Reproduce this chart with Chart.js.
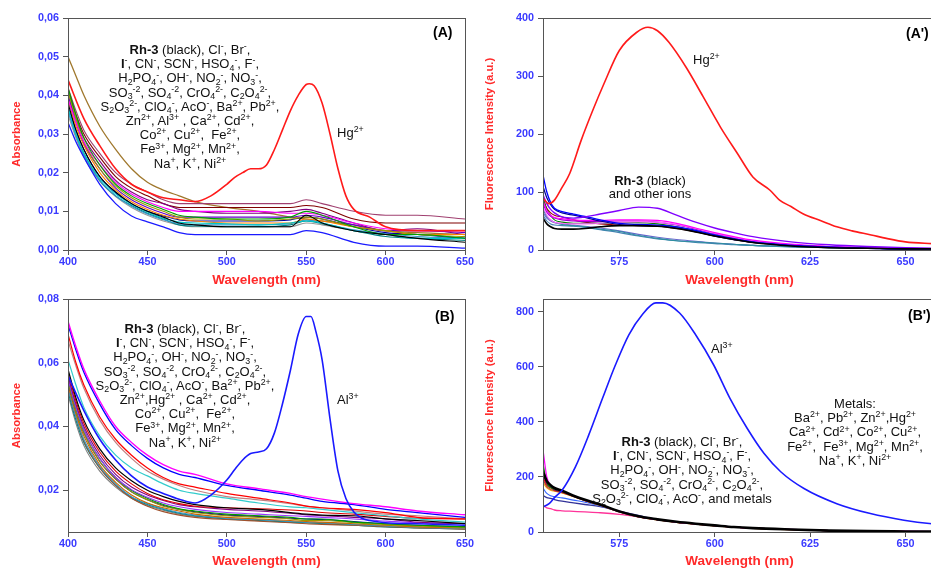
<!DOCTYPE html>
<html>
<head>
<meta charset="utf-8">
<script src="https://cdn.jsdelivr.net/npm/chart.js@4.4.1/dist/chart.umd.min.js"></script>
<style>
  body { margin: 0; width: 931px; height: 568px; overflow: hidden; background: #fff; position: relative;
         font-family: "Liberation Sans", Arial, sans-serif; }
  canvas { position: absolute; }
  .txt { position: absolute; font-size: 13px; color: #111; text-align: center; line-height: 14.2px; white-space: nowrap; z-index: 2; }
  .txt sup, .txt sub { font-size: 0.68em; line-height: 0; position: relative; vertical-align: baseline; }
  .txt sup { top: -0.55em; }
  .txt sub { top: 0.3em; }
  .lbl { position: absolute; font-size: 13px; color: #111; white-space: nowrap; z-index: 2; }
  .lbl sup { font-size: 0.68em; line-height: 0; position: relative; vertical-align: baseline; top: -0.55em; }
  .tag { position: absolute; font-weight: bold; font-size: 14px; color: #000; z-index: 2; white-space: nowrap; }
</style>
</head>
<body>
<canvas id="paneelA" width="480" height="290" style="left:0;top:0"></canvas>
<canvas id="paneelA2" width="470" height="290" style="left:470px;top:0"></canvas>
<canvas id="paneelB" width="480" height="285" style="left:0;top:285px"></canvas>
<canvas id="paneelB2" width="470" height="285" style="left:470px;top:285px"></canvas>

<!-- (A) -->
<div class="tag" style="left:433px;top:24px">(A)</div>
<div class="txt" style="left:70px;top:43px;width:240px">
  <div><b>Rh-3</b> (black), Cl<sup>-</sup>, Br<sup>-</sup>,</div>
  <div><b>I</b><sup>-</sup>, CN<sup>-</sup>, SCN<sup>-</sup>, HSO<sub>4</sub><sup>-</sup>, F<sup>-</sup>,</div>
  <div>H<sub>2</sub>PO<sub>4</sub><sup>-</sup>, OH<sup>-</sup>, NO<sub>2</sub><sup>-</sup>, NO<sub>3</sub><sup>-</sup>,</div>
  <div>SO<sub>3</sub><sup>-2</sup>, SO<sub>4</sub><sup>-2</sup>, CrO<sub>4</sub><sup>2-</sup>, C<sub>2</sub>O<sub>4</sub><sup>2-</sup>,</div>
  <div>S<sub>2</sub>O<sub>3</sub><sup>2-</sup>, ClO<sub>4</sub><sup>-</sup>, AcO<sup>-</sup>, Ba<sup>2+</sup>, Pb<sup>2+</sup>,</div>
  <div>Zn<sup>2+</sup>, Al<sup>3+</sup> , Ca<sup>2+</sup>, Cd<sup>2+</sup>,</div>
  <div>Co<sup>2+</sup>, Cu<sup>2+</sup>,&nbsp; Fe<sup>2+</sup>,</div>
  <div>Fe<sup>3+</sup>, Mg<sup>2+</sup>, Mn<sup>2+</sup>,</div>
  <div>Na<sup>+</sup>, K<sup>+</sup>, Ni<sup>2+</sup></div>
</div>
<div class="lbl" style="left:337px;top:125px">Hg<sup>2+</sup></div>

<!-- (A') -->
<div class="tag" style="left:906px;top:25px">(A')</div>
<div class="lbl" style="left:693px;top:52px">Hg<sup>2+</sup></div>
<div class="txt" style="left:560px;top:175px;width:180px;line-height:12.5px">
  <div><b>Rh-3</b> (black)</div>
  <div>and other ions</div>
</div>

<!-- (B) -->
<div class="tag" style="left:435px;top:308px">(B)</div>
<div class="txt" style="left:65px;top:322px;width:240px">
  <div><b>Rh-3</b> (black), Cl<sup>-</sup>, Br<sup>-</sup>,</div>
  <div><b>I</b><sup>-</sup>, CN<sup>-</sup>, SCN<sup>-</sup>, HSO<sub>4</sub><sup>-</sup>, F<sup>-</sup>,</div>
  <div>H<sub>2</sub>PO<sub>4</sub><sup>-</sup>, OH<sup>-</sup>, NO<sub>2</sub><sup>-</sup>, NO<sub>3</sub><sup>-</sup>,</div>
  <div>SO<sub>3</sub><sup>-2</sup>, SO<sub>4</sub><sup>-2</sup>, CrO<sub>4</sub><sup>2-</sup>, C<sub>2</sub>O<sub>4</sub><sup>2-</sup>,</div>
  <div>S<sub>2</sub>O<sub>3</sub><sup>2-</sup>, ClO<sub>4</sub><sup>-</sup>, AcO<sup>-</sup>, Ba<sup>2+</sup>, Pb<sup>2+</sup>,</div>
  <div>Zn<sup>2+</sup>,Hg<sup>2+</sup> , Ca<sup>2+</sup>, Cd<sup>2+</sup>,</div>
  <div>Co<sup>2+</sup>, Cu<sup>2+</sup>,&nbsp; Fe<sup>2+</sup>,</div>
  <div>Fe<sup>3+</sup>, Mg<sup>2+</sup>, Mn<sup>2+</sup>,</div>
  <div>Na<sup>+</sup>, K<sup>+</sup>, Ni<sup>2+</sup></div>
</div>
<div class="lbl" style="left:337px;top:392px">Al<sup>3+</sup></div>

<!-- (B') -->
<div class="tag" style="left:908px;top:307px">(B')</div>
<div class="lbl" style="left:711px;top:341px">Al<sup>3+</sup></div>
<div class="txt" style="left:765px;top:397px;width:180px">
  <div>Metals:</div>
  <div>Ba<sup>2+</sup>, Pb<sup>2+</sup>, Zn<sup>2+</sup>,Hg<sup>2+</sup></div>
  <div>Ca<sup>2+</sup>, Cd<sup>2+</sup>, Co<sup>2+</sup>, Cu<sup>2+</sup>,</div>
  <div>Fe<sup>2+</sup>,&nbsp; Fe<sup>3+</sup>, Mg<sup>2+</sup>, Mn<sup>2+</sup>,</div>
  <div>Na<sup>+</sup>, K<sup>+</sup>, Ni<sup>2+</sup></div>
</div>
<div class="txt" style="left:562px;top:435px;width:240px">
  <div><b>Rh-3</b> (black), Cl<sup>-</sup>, Br<sup>-</sup>,</div>
  <div><b>I</b><sup>-</sup>, CN<sup>-</sup>, SCN<sup>-</sup>, HSO<sub>4</sub><sup>-</sup>, F<sup>-</sup>,</div>
  <div>H<sub>2</sub>PO<sub>4</sub><sup>-</sup>, OH<sup>-</sup>, NO<sub>2</sub><sup>-</sup>, NO<sub>3</sub><sup>-</sup>,</div>
  <div>SO<sub>3</sub><sup>-2</sup>, SO<sub>4</sub><sup>-2</sup>, CrO<sub>4</sub><sup>2-</sup>, C<sub>2</sub>O<sub>4</sub><sup>2-</sup>,</div>
  <div>S<sub>2</sub>O<sub>3</sub><sup>2-</sup>, ClO<sub>4</sub><sup>-</sup>, AcO<sup>-</sup>, and metals</div>
</div>

<script>
// Golflengtes (nm) van de absorptiespectra
const wlAbs = [400, 405, 410, 420, 430, 440, 450, 460, 470, 480, 500, 520, 540, 550, 560, 580, 600, 620, 650];

// (A) absorptie: Rh-3 met de verschillende ionen
const aBrown   = [0.050, 0.045, 0.040, 0.032, 0.026, 0.021, 0.0175, 0.0155, 0.014, 0.0125, 0.011, 0.010, 0.0085, 0.008, 0.0075, 0.0065, 0.005, 0.0045, 0.004];
const aPlum    = [0.042, 0.036, 0.031, 0.025, 0.020, 0.017, 0.015, 0.013, 0.012, 0.012, 0.012, 0.012, 0.012, 0.013, 0.012, 0.010, 0.009, 0.009, 0.008];
const aMaroon  = [0.041, 0.035, 0.030, 0.024, 0.019, 0.016, 0.014, 0.012, 0.011, 0.011, 0.011, 0.011, 0.011, 0.0115, 0.011, 0.008, 0.007, 0.007, 0.007];
const aPurple  = [0.040, 0.034, 0.029, 0.023, 0.018, 0.015, 0.013, 0.012, 0.0105, 0.010, 0.0095, 0.0095, 0.010, 0.0105, 0.0095, 0.007, 0.005, 0.0055, 0.004];
const aMagenta = [0.039, 0.033, 0.028, 0.022, 0.0175, 0.0145, 0.0125, 0.011, 0.010, 0.010, 0.010, 0.010, 0.0095, 0.0095, 0.009, 0.007, 0.0055, 0.005, 0.005];
const aGreen   = [0.042, 0.035, 0.029, 0.022, 0.017, 0.014, 0.012, 0.0105, 0.009, 0.0085, 0.008, 0.008, 0.0085, 0.010, 0.009, 0.006, 0.004, 0.004, 0.003];
const aOlive   = [0.041, 0.034, 0.028, 0.021, 0.0165, 0.0135, 0.0115, 0.010, 0.0085, 0.008, 0.008, 0.0075, 0.008, 0.0085, 0.008, 0.006, 0.005, 0.004, 0.0035];
const aBlack   = [0.038, 0.031, 0.026, 0.019, 0.015, 0.012, 0.010, 0.0085, 0.007, 0.0065, 0.006, 0.006, 0.006, 0.009, 0.007, 0.005, 0.004, 0.003, 0.002];
const aCyan    = [0.037, 0.030, 0.025, 0.0185, 0.0145, 0.0118, 0.0098, 0.0082, 0.0072, 0.007, 0.0068, 0.0065, 0.007, 0.0075, 0.007, 0.005, 0.004, 0.003, 0.003];
const aTeal    = [0.036, 0.030, 0.025, 0.018, 0.014, 0.0115, 0.0095, 0.008, 0.0065, 0.0062, 0.006, 0.006, 0.0065, 0.0075, 0.0068, 0.005, 0.0035, 0.003, 0.0025];
const aGray    = [0.035, 0.029, 0.024, 0.0178, 0.0138, 0.011, 0.009, 0.0075, 0.0065, 0.006, 0.006, 0.006, 0.006, 0.007, 0.0065, 0.005, 0.004, 0.003, 0.003];
const aOrange  = [0.039, 0.032, 0.027, 0.020, 0.0155, 0.0125, 0.0105, 0.009, 0.008, 0.0075, 0.007, 0.007, 0.007, 0.008, 0.0075, 0.006, 0.005, 0.004, 0.004];
const aViolet  = [0.040, 0.033, 0.0275, 0.021, 0.016, 0.013, 0.011, 0.0095, 0.0085, 0.0085, 0.0085, 0.0085, 0.0085, 0.009, 0.0085, 0.0065, 0.005, 0.005, 0.0045];
const aNavy    = [0.037, 0.031, 0.026, 0.019, 0.0148, 0.012, 0.010, 0.0088, 0.0078, 0.0075, 0.0075, 0.0075, 0.0078, 0.0085, 0.008, 0.006, 0.0045, 0.004, 0.003];
const aSteel   = [0.036, 0.0295, 0.0245, 0.018, 0.014, 0.0113, 0.0093, 0.0078, 0.0068, 0.0065, 0.0065, 0.0065, 0.0068, 0.0078, 0.007, 0.0052, 0.0042, 0.0035, 0.003];
const aBlue    = [0.033, 0.028, 0.024, 0.017, 0.012, 0.0088, 0.0073, 0.006, 0.0045, 0.004, 0.004, 0.004, 0.004, 0.005, 0.0045, 0.002, 0.001, 0.001, 0.0005];

// (A) Hg2+ absorptie, fijner rond de piek
const wlHgAbs = [400, 410, 420, 430, 440, 450, 460, 470, 480, 490, 500, 505, 510, 515, 520, 525, 530, 535, 540, 545, 550, 552, 555, 560, 565, 570, 575, 580, 590, 600, 620, 650];
const hgAbs   = [0.044, 0.034, 0.027, 0.021, 0.017, 0.015, 0.0135, 0.013, 0.0125, 0.014, 0.017, 0.0188, 0.020, 0.021, 0.021, 0.022, 0.026, 0.031, 0.036, 0.040, 0.0428, 0.043, 0.0425, 0.038, 0.030, 0.021, 0.014, 0.0105, 0.0085, 0.006, 0.005, 0.005];

// (B) absorptie
const bMagenta = [0.073, 0.065, 0.058, 0.048, 0.040, 0.035, 0.031, 0.028, 0.026, 0.025, 0.022, 0.0205, 0.019, 0.018, 0.0172, 0.0158, 0.0148, 0.0135, 0.0123];
const bBlue    = [0.072, 0.064, 0.057, 0.047, 0.039, 0.034, 0.030, 0.027, 0.025, 0.024, 0.0215, 0.020, 0.0185, 0.0175, 0.0165, 0.0155, 0.014, 0.013, 0.0115];
const bRed     = [0.069, 0.060, 0.053, 0.043, 0.036, 0.031, 0.027, 0.024, 0.022, 0.021, 0.019, 0.0175, 0.016, 0.015, 0.0145, 0.014, 0.013, 0.0115, 0.011];
const bRosy    = [0.067, 0.059, 0.052, 0.042, 0.035, 0.030, 0.026, 0.0235, 0.0215, 0.020, 0.018, 0.017, 0.0158, 0.015, 0.0145, 0.0135, 0.0125, 0.012, 0.011];
const bCyan    = [0.061, 0.053, 0.046, 0.037, 0.031, 0.027, 0.0245, 0.022, 0.020, 0.019, 0.0175, 0.016, 0.0148, 0.0145, 0.014, 0.013, 0.012, 0.011, 0.010];
const bBlack   = [0.058, 0.049, 0.042, 0.033, 0.027, 0.023, 0.020, 0.018, 0.0165, 0.0155, 0.0145, 0.014, 0.013, 0.0125, 0.0122, 0.012, 0.011, 0.0105, 0.0095];
const bRed2    = [0.057, 0.048, 0.041, 0.032, 0.026, 0.022, 0.019, 0.017, 0.0158, 0.015, 0.0145, 0.0142, 0.0138, 0.0135, 0.013, 0.0125, 0.0118, 0.0112, 0.011];
const bPurple  = [0.056, 0.047, 0.040, 0.031, 0.025, 0.021, 0.0185, 0.0168, 0.0155, 0.0148, 0.014, 0.0135, 0.0128, 0.0123, 0.012, 0.0115, 0.011, 0.010, 0.0095];
const bViolet  = [0.055, 0.046, 0.039, 0.030, 0.024, 0.0202, 0.0178, 0.016, 0.0148, 0.014, 0.013, 0.0125, 0.012, 0.0118, 0.0115, 0.011, 0.0103, 0.0098, 0.0095];
const bGreen   = [0.055, 0.046, 0.039, 0.030, 0.024, 0.020, 0.0175, 0.0155, 0.0142, 0.0135, 0.0125, 0.012, 0.0115, 0.011, 0.011, 0.010, 0.0095, 0.009, 0.0085];
const bOlive   = [0.054, 0.045, 0.038, 0.029, 0.0235, 0.0195, 0.017, 0.015, 0.014, 0.013, 0.012, 0.0115, 0.011, 0.0105, 0.0105, 0.0098, 0.0092, 0.0088, 0.0083];
const bNavy    = [0.054, 0.045, 0.038, 0.029, 0.0235, 0.0195, 0.017, 0.0152, 0.014, 0.0132, 0.0122, 0.0118, 0.0112, 0.011, 0.0108, 0.0102, 0.0095, 0.009, 0.0086];
const bOrange  = [0.053, 0.044, 0.037, 0.028, 0.0225, 0.0185, 0.016, 0.0145, 0.0135, 0.0125, 0.0115, 0.011, 0.0105, 0.0102, 0.010, 0.0095, 0.009, 0.0085, 0.0082];
const bSteel   = [0.052, 0.043, 0.036, 0.0275, 0.022, 0.018, 0.0158, 0.0142, 0.013, 0.0122, 0.0112, 0.0108, 0.0102, 0.010, 0.0098, 0.0093, 0.0088, 0.0083, 0.008];
const bBrown   = [0.052, 0.043, 0.0355, 0.027, 0.0215, 0.0175, 0.015, 0.0133, 0.0122, 0.0115, 0.0108, 0.0103, 0.0098, 0.0095, 0.0093, 0.009, 0.0086, 0.0082, 0.0078];
const bTeal    = [0.051, 0.042, 0.035, 0.027, 0.0215, 0.0178, 0.0155, 0.014, 0.0128, 0.012, 0.011, 0.0105, 0.010, 0.0098, 0.0095, 0.009, 0.0085, 0.0082, 0.0078];
const bGray    = [0.050, 0.041, 0.034, 0.026, 0.021, 0.0175, 0.0152, 0.0137, 0.0125, 0.0118, 0.011, 0.0105, 0.010, 0.0098, 0.0096, 0.0092, 0.0088, 0.0085, 0.008];

// (B) Al3+ absorptie
const wlAlAbs = [400, 410, 420, 430, 440, 450, 460, 470, 480, 490, 500, 505, 510, 515, 520, 525, 530, 535, 540, 545, 550, 553, 556, 560, 565, 570, 575, 580, 585, 590, 600, 620, 650];
const alAbs   = [0.056, 0.045, 0.036, 0.0295, 0.0245, 0.021, 0.019, 0.0172, 0.016, 0.0185, 0.0232, 0.0265, 0.0295, 0.0315, 0.032, 0.033, 0.038, 0.047, 0.0575, 0.069, 0.0745, 0.0745, 0.070, 0.061, 0.0424, 0.026, 0.0174, 0.0132, 0.0112, 0.0105, 0.0098, 0.0095, 0.009];

// Golflengtes (nm) van de fluorescentiespectra
const wlFl = [555, 556, 557, 558, 560, 563, 566, 570, 575, 580, 585, 590, 595, 600, 605, 610, 620, 630, 640, 650, 660];

// (A') fluorescentie
const fViolet  = [95, 80, 70, 64, 57, 55, 57, 62, 68, 74, 72, 60, 48, 38, 30, 23, 14, 9, 6, 4, 3];
const fBlue    = [129, 100, 82, 72, 66, 62, 58, 52, 46, 44, 43, 40, 34, 26, 19, 14, 8, 5, 3, 2, 2];
const fNavy    = [110, 90, 78, 70, 64, 60, 56, 50, 44, 42, 41, 38, 32, 24, 18, 13, 8, 5, 3, 2, 2];
const fMaroon  = [88, 72, 64, 60, 57, 52, 48, 45, 43, 42, 41, 37, 31, 24, 18, 13, 8, 5, 3, 2, 2];
const fMagenta = [85, 68, 60, 56, 54, 52, 51, 51, 52, 52, 51, 46, 38, 30, 23, 17, 10, 6, 4, 3, 2];
const fGreen   = [90, 70, 60, 52, 48, 46, 46, 46, 47, 47, 45, 40, 33, 26, 20, 15, 9, 5, 3, 2, 2];
const fPink    = [75, 60, 52, 48, 46, 45, 45, 46, 48, 49, 48, 44, 37, 29, 22, 16, 9, 6, 4, 3, 2];
const fPurple  = [80, 65, 58, 55, 52, 50, 49, 49, 50, 50, 48, 43, 36, 28, 21, 15, 9, 6, 4, 3, 2];
const fTeal    = [70, 58, 52, 48, 44, 42, 40, 36, 32, 25, 20, 16, 14, 12, 10, 8, 6, 4, 3, 2, 2];
const fSteel   = [60, 50, 45, 43, 42, 41, 39, 35, 30, 24, 19, 16, 13, 11, 9, 8, 5, 4, 3, 2, 2];
const fSlate   = [65, 55, 50, 47, 45, 43, 41, 38, 33, 27, 22, 18, 15, 12, 10, 8, 6, 4, 3, 2, 2];
const fBlack   = [55, 45, 40, 37, 36, 36, 37, 40, 42, 42, 41, 37, 31, 24, 18, 13, 7, 4, 3, 2, 2];

// (A') Hg2+ fluorescentie
const wlHgFl = [555, 556.5, 558, 560, 562, 565, 568, 571, 575, 579.5, 582.5, 585, 588, 592.5, 597, 601.5, 606, 610, 614.5, 617, 620, 623, 628, 632, 636, 641, 645, 650, 657, 660];
const hgFl   = [89, 80, 86, 108, 132, 189, 240, 287, 344, 375, 384, 378, 358, 315, 264, 212, 166, 126, 103, 86, 75, 63, 50, 40, 33, 26, 20, 14, 11, 10];

// (B') fluorescentie
const gMagenta = [300, 200, 170, 158, 148, 131, 116, 99, 74, 56, 45, 36, 29, 23, 18, 14, 9, 5, 3, 2, 1];
const gGreen   = [250, 180, 162, 155, 147, 131, 116, 99, 74, 56, 45, 36, 29, 23, 18, 14, 9, 5, 3, 2, 1];
const gPurple  = [210, 175, 162, 154, 146, 130, 115, 98, 74, 56, 45, 36, 29, 23, 18, 14, 9, 5, 3, 2, 1];
const gRed     = [200, 170, 160, 152, 145, 130, 115, 98, 74, 56, 45, 36, 29, 23, 18, 14, 9, 5, 3, 2, 1];
const gBrown   = [190, 165, 155, 150, 143, 129, 114, 97, 73, 55, 44, 35, 28, 22, 17, 13, 8, 5, 3, 2, 1];
const gOrange  = [180, 160, 152, 148, 142, 128, 114, 97, 73, 55, 44, 35, 28, 22, 17, 13, 8, 5, 3, 2, 1];
const gRoyal   = [160, 140, 132, 128, 124, 116, 108, 95, 74, 57, 46, 37, 30, 24, 18, 14, 9, 5, 3, 2, 1];
const gNavy    = [133, 125, 122, 118, 112, 106, 100, 92, 76, 60, 45, 36, 29, 23, 18, 14, 9, 5, 3, 2, 1];
const gPink    = [97, 88, 85, 80, 77, 75, 73, 70, 64, 55, 45, 36, 29, 23, 18, 14, 9, 5, 3, 2, 1];
const gBlack   = [219, 185, 170, 160, 150, 132, 117, 100, 75, 57, 46, 37, 30, 24, 18, 14, 9, 5, 3, 2, 1];

// (B') Al3+ fluorescentie
const wlAlFl = [555, 556.6, 558, 560, 563.5, 567, 570.6, 574, 577.5, 581, 584.6, 586.4, 590.8, 595, 599.7, 604, 608.5, 612.9, 617.3, 623.4, 632, 640.8, 649.6, 656.9, 660];
const alFl   = [91, 103, 125, 152, 237, 353, 486, 608, 717, 790, 833, 833, 796, 717, 608, 486, 377, 286, 219, 158, 103, 67, 43, 30, 27];

// Asverdeling
const ticksAbsA = [0, 0.01, 0.02, 0.03, 0.04, 0.05, 0.06];
const ticksAbsB = [0.02, 0.04, 0.06, 0.08];
const ticksFlA  = [0, 100, 200, 300, 400];
const ticksFlB  = [0, 200, 400, 600, 800];
const ticksWlAbs = [400, 450, 500, 550, 600, 650];
const ticksWlFl  = [575, 600, 625, 650];

const FONT = "'Liberation Sans', Arial, sans-serif";
const BLAUW = '#3a3aff';
const ROOD = '#ff2a2a';
const KADER = '#555';

// volledig kader rond het plotgebied
const kaderPlugin = {
  id: 'kader',
  afterDatasetsDraw(chart) {
    const { ctx, chartArea: a } = chart;
    ctx.save();
    ctx.strokeStyle = KADER;
    ctx.lineWidth = 1;
    ctx.strokeRect(Math.round(a.left) + 0.5, Math.round(a.top) + 0.5, Math.round(a.width), Math.round(a.height));
    ctx.restore();
  }
};

function lijn(xs, ys, kleur, dikte) {
  return {
    data: xs.map((x, i) => ({ x: x, y: ys[i] })),
    borderColor: kleur,
    borderWidth: dikte || 1.1,
    pointRadius: 0,
    fill: false,
    cubicInterpolationMode: 'monotone'
  };
}

function as(cfg) {
  return {
    type: 'linear',
    min: cfg.min,
    max: cfg.max,
    afterBuildTicks: s => { s.ticks = cfg.ticks.map(v => ({ value: v })); },
    afterFit: s => { if (cfg.width) s.width = cfg.width; if (cfg.height) s.height = cfg.height; },
    ticks: {
      color: BLAUW,
      font: { family: FONT, size: 10.8, weight: 'bold' },
      padding: cfg.tickPad,
      autoSkip: false,
      maxRotation: 0,
      callback: cfg.fmt || (v => v)
    },
    grid: { display: true, drawOnChartArea: false, drawTicks: true, tickLength: 5, color: KADER },
    border: { display: true, color: KADER, width: 1 },
    title: {
      display: true,
      text: cfg.title,
      color: ROOD,
      font: { family: FONT, size: cfg.titleSize, weight: 'bold' },
      padding: cfg.titlePad
    }
  };
}

function tekenPaneel(id, p) {
  new Chart(document.getElementById(id), {
    type: 'line',
    data: { datasets: p.datasets },
    options: {
      responsive: false,
      animation: false,
      events: [],
      layout: { padding: { top: p.top, right: p.right, left: 0, bottom: 0 } },
      plugins: { legend: { display: false }, tooltip: { enabled: false } },
      scales: {
        x: as({ min: p.xMin, max: p.xMax, ticks: p.xTicks, height: p.xHeight, tickPad: 1,
                title: 'Wavelength (nm)', titleSize: 13.5, titlePad: { top: 0, bottom: p.xTitlePad } }),
        y: as({ min: p.yMin, max: p.yMax, ticks: p.yTicks, width: p.yWidth, tickPad: 4, fmt: p.fmt,
                title: p.yTitle, titleSize: 11.3, titlePad: { top: p.yTitlePad, bottom: 0 } })
      }
    },
    plugins: [kaderPlugin]
  });
}

const komma = v => v.toFixed(2).replace('.', ',');

// (A)
tekenPaneel('paneelA', {
  top: 18, right: 15, xHeight: 40, yWidth: 68, xTitlePad: 2, yTitlePad: 10,
  xMin: 400, xMax: 650, xTicks: ticksWlAbs,
  yMin: 0, yMax: 0.06, yTicks: ticksAbsA, fmt: komma, yTitle: 'Absorbance',
  datasets: [
    lijn(wlHgAbs, hgAbs, '#ff1a1a', 1.6),
    lijn(wlAbs, aBlue, '#1a1aff', 1.3),
    lijn(wlAbs, aBlack, '#000000'),
    lijn(wlAbs, aGreen, '#00a000'),
    lijn(wlAbs, aMagenta, '#ff00ff'),
    lijn(wlAbs, aCyan, '#00c8c8'),
    lijn(wlAbs, aOlive, '#999900'),
    lijn(wlAbs, aOrange, '#ff8000'),
    lijn(wlAbs, aViolet, '#6600cc'),
    lijn(wlAbs, aNavy, '#0000a0'),
    lijn(wlAbs, aSteel, '#3399cc'),
    lijn(wlAbs, aTeal, '#008080'),
    lijn(wlAbs, aGray, '#999999'),
    lijn(wlAbs, aPurple, '#800080'),
    lijn(wlAbs, aMaroon, '#800000'),
    lijn(wlAbs, aPlum, '#a04070'),
    lijn(wlAbs, aBrown, '#a0782d', 1.3)
  ]
});

// (A')
tekenPaneel('paneelA2', {
  top: 18, right: 4, xHeight: 40, yWidth: 73, xTitlePad: 2, yTitlePad: 13,
  xMin: 555, xMax: 658, xTicks: ticksWlFl,
  yMin: 0, yMax: 400, yTicks: ticksFlA, yTitle: 'Fluorescence Intensity (a.u.)',
  datasets: [
    lijn(wlHgFl, hgFl, '#ff1a1a', 1.6),
    lijn(wlFl, fBlack, '#000000', 1.6),
    lijn(wlFl, fViolet, '#8000ff', 1.4),
    lijn(wlFl, fBlue, '#0000ff', 1.3),
    lijn(wlFl, fNavy, '#000090', 1.2),
    lijn(wlFl, fMagenta, '#ff00ff', 1.2),
    lijn(wlFl, fPink, '#ff66ff'),
    lijn(wlFl, fPurple, '#9900cc'),
    lijn(wlFl, fGreen, '#008000'),
    lijn(wlFl, fMaroon, '#990000'),
    lijn(wlFl, fTeal, '#2f8fa0'),
    lijn(wlFl, fSteel, '#4682b4'),
    lijn(wlFl, fSlate, '#6666cc')
  ]
});

// (B)
tekenPaneel('paneelB', {
  top: 14, right: 15, xHeight: 38, yWidth: 68, xTitlePad: 1, yTitlePad: 10,
  xMin: 400, xMax: 650, xTicks: ticksWlAbs,
  yMin: 0.0069, yMax: 0.08, yTicks: ticksAbsB, fmt: komma, yTitle: 'Absorbance',
  datasets: [
    lijn(wlAlAbs, alAbs, '#1a1aff', 1.6),
    lijn(wlAbs, bMagenta, '#ff00ff', 1.4),
    lijn(wlAbs, bBlue, '#0000ff', 1.3),
    lijn(wlAbs, bBlack, '#000000', 1.2),
    lijn(wlAbs, bRed, '#ff0000', 1.2),
    lijn(wlAbs, bRosy, '#c08080', 1.2),
    lijn(wlAbs, bCyan, '#33cccc', 1.2),
    lijn(wlAbs, bRed2, '#e00000'),
    lijn(wlAbs, bPurple, '#800080'),
    lijn(wlAbs, bViolet, '#9933ff'),
    lijn(wlAbs, bGreen, '#009900'),
    lijn(wlAbs, bOlive, '#999900'),
    lijn(wlAbs, bNavy, '#000099'),
    lijn(wlAbs, bOrange, '#cc6600'),
    lijn(wlAbs, bSteel, '#3399cc'),
    lijn(wlAbs, bBrown, '#a0522d'),
    lijn(wlAbs, bTeal, '#008080'),
    lijn(wlAbs, bGray, '#808080')
  ]
});

// (B')
tekenPaneel('paneelB2', {
  top: 14, right: 4, xHeight: 38, yWidth: 73, xTitlePad: 1, yTitlePad: 13,
  xMin: 555, xMax: 658, xTicks: ticksWlFl,
  yMin: 0, yMax: 847, yTicks: ticksFlB, yTitle: 'Fluorescence Intensity (a.u.)',
  datasets: [
    lijn(wlAlFl, alFl, '#1a1aff', 1.6),
    lijn(wlFl, gBlack, '#000000', 2.6),
    lijn(wlFl, gMagenta, '#ff00ff', 1.2),
    lijn(wlFl, gGreen, '#00a000'),
    lijn(wlFl, gPurple, '#800080'),
    lijn(wlFl, gRed, '#ff0000'),
    lijn(wlFl, gBrown, '#996633'),
    lijn(wlFl, gOrange, '#ff9900'),
    lijn(wlFl, gRoyal, '#3366ff'),
    lijn(wlFl, gNavy, '#333399', 1.3),
    lijn(wlFl, gPink, '#ff3399', 1.3)
  ]
});
</script>
</body>
</html>
